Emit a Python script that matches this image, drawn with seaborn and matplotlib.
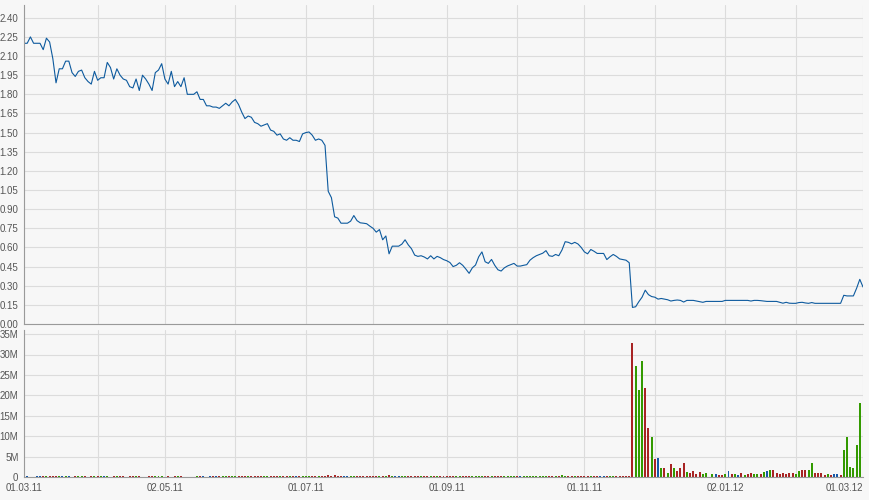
import numpy as np
import pandas as pd
import matplotlib
matplotlib.use("Agg")
import matplotlib.pyplot as plt
from matplotlib.ticker import FixedLocator, FuncFormatter
import seaborn as sns

# one point per weekday, 01.03.2011 - 01.03.2012
dates = pd.bdate_range("2011-03-01", "2012-03-01")

# closing price (one value per weekday)
price = [
    # Mar 11
    2.20, 2.20, 2.25, 2.20, 2.20, 2.20, 2.15, 2.24, 2.21, 2.08, 1.89, 2.00, 2.00, 2.06, 2.06, 1.97,
    1.94, 1.98, 1.99, 1.93, 1.90, 1.88, 1.98,
    # Apr 11
    1.91, 1.93, 1.93, 2.05, 2.01, 1.92, 2.00, 1.95, 1.92, 1.91, 1.86, 1.85, 1.92, 1.83, 1.95, 1.92,
    1.88, 1.83, 1.97, 1.99, 2.04,
    # May 11
    1.92, 1.88, 1.98, 1.86, 1.90, 1.86, 1.93, 1.80, 1.80, 1.80, 1.82, 1.76, 1.76, 1.71, 1.71, 1.70,
    1.70, 1.69, 1.71, 1.73, 1.71, 1.74,
    # Jun 11
    1.76, 1.72, 1.66, 1.61, 1.63, 1.62, 1.58, 1.57, 1.55, 1.56, 1.57, 1.52, 1.51, 1.48, 1.49, 1.45,
    1.44, 1.46, 1.44, 1.44, 1.43, 1.49,
    # Jul 11
    1.50, 1.505, 1.48, 1.44, 1.45, 1.44, 1.40, 1.04, 0.99, 0.84, 0.83, 0.79, 0.79, 0.79, 0.806, 0.85,
    0.81, 0.793, 0.79, 0.786, 0.767,
    # Aug 11
    0.75, 0.72, 0.74, 0.66, 0.69, 0.55, 0.61, 0.61, 0.61, 0.626, 0.66, 0.62, 0.59, 0.54, 0.53, 0.535,
    0.525, 0.51, 0.535, 0.51, 0.53, 0.52, 0.505,
    # Sep 11
    0.496, 0.482, 0.45, 0.46, 0.48, 0.46, 0.43, 0.397, 0.44, 0.462, 0.527, 0.565, 0.488, 0.475, 0.506,
    0.46, 0.425, 0.415, 0.44, 0.455, 0.465, 0.475,
    # Oct 11
    0.454, 0.454, 0.46, 0.465, 0.50, 0.52, 0.535, 0.545, 0.555, 0.575, 0.535, 0.53, 0.545, 0.535, 0.58,
    0.645, 0.64, 0.628, 0.64, 0.627, 0.60,
    # Nov 11
    0.565, 0.55, 0.584, 0.57, 0.553, 0.553, 0.553, 0.505, 0.527, 0.545, 0.53, 0.51, 0.505, 0.50, 0.48,
    0.13, 0.135, 0.175, 0.21, 0.265, 0.23, 0.215,
    # Dec 11
    0.21, 0.195, 0.20, 0.195, 0.19, 0.18, 0.185, 0.188, 0.185, 0.172, 0.185, 0.185, 0.185, 0.18, 0.175,
    0.17, 0.177, 0.177, 0.177, 0.177, 0.177, 0.177,
    # Jan 12
    0.185, 0.185, 0.185, 0.185, 0.185, 0.185, 0.185, 0.185, 0.18, 0.185, 0.185, 0.183, 0.18, 0.177,
    0.177, 0.177, 0.177, 0.17, 0.163, 0.17, 0.163, 0.162,
    # Feb 12
    0.162, 0.168, 0.17, 0.165, 0.162, 0.168, 0.162, 0.162, 0.162, 0.162, 0.162, 0.162, 0.162, 0.162,
    0.162, 0.225, 0.22, 0.22, 0.22, 0.28, 0.35,
    # Mar 12
    0.29,
]

# volume in millions
volume_m = [
    # Mar 11
    0.3, 0.3, 0, 0, 0.3, 0.3, 0.3, 0.3, 0.3, 0.3, 0.3, 0.3, 0.3, 0.3, 0.3, 0, 0.3, 0.3, 0.3, 0.3, 0, 0.3, 0.3,
    # Apr 11
    0.3, 0.3, 0.3, 0.3, 0, 0.3, 0.3, 0.3, 0.3, 0, 0.3, 0.3, 0.3, 0.3, 0, 0, 0.3, 0.3, 0.3, 0.3, 0.3,
    # May 11
    0, 0.3, 0, 0.3, 0.3, 0.3, 0, 0, 0, 0, 0.3, 0.3, 0.3, 0, 0.3, 0.3, 0.3, 0.3, 0.3, 0.3, 0.3, 0.3,
    # Jun 11
    0.3, 0.3, 0.3, 0.3, 0.3, 0.3, 0.3, 0.3, 0.3, 0.3, 0.3, 0.3, 0.3, 0.3, 0.3, 0.3, 0.3, 0.3, 0.3, 0.3, 0.3, 0.3,
    # Jul 11
    0.3, 0.3, 0.3, 0.3, 0.3, 0.3, 0.3, 0.5, 0.3, 0.5, 0.3, 0.3, 0.3, 0.3, 0.3, 0.3, 0.3, 0.3, 0.3, 0.3, 0.3,
    # Aug 11
    0.3, 0.3, 0.3, 0.3, 0.3, 0.5, 0.3, 0.3, 0.3, 0.3, 0.3, 0.3, 0.3, 0.3, 0.3, 0.3, 0.3, 0.3, 0.3, 0.3, 0.3, 0.3, 0.3,
    # Sep 11
    0.3, 0.3, 0.3, 0.3, 0.3, 0.3, 0.3, 0.3, 0.3, 0.3, 0.3, 0.3, 0.3, 0.3, 0.3, 0.3, 0.3, 0.3, 0.3, 0.3, 0.3, 0.3,
    # Oct 11
    0.3, 0.3, 0.3, 0.3, 0.3, 0.3, 0.3, 0.3, 0.3, 0.3, 0.3, 0.3, 0.3, 0.3, 0.5, 0.3, 0.3, 0.3, 0.3, 0.3, 0.3,
    # Nov 11
    0.3, 0.3, 0.3, 0.3, 0.3, 0.3, 0.3, 0.3, 0.3, 0.3, 0.3, 0.3, 0.3, 0.3, 0.3,
    32.9, 27.3, 21.2, 28.5, 21.9, 11.9, 9.8,
    # Dec 11
    4.5, 4.7, 2.3, 2.3, 1.0, 3.2, 2.3, 1.5, 2.3, 3.4, 1.2, 1.0, 1.5, 0.8, 1.2, 0.8, 1.0, 0, 0.7, 0.7, 0.5, 0.5,
    # Jan 12
    0.7, 1.5, 0.7, 0.7, 0.5, 1.0, 0.5, 0.65, 1.0, 0.7, 0.7, 0.7, 1.2, 1.5, 1.7, 1.7, 1.0, 0.7, 1.0, 0.7, 1.0, 1.0,
    # Feb 12
    0.7, 1.5, 1.7, 1.7, 1.7, 3.4, 1.0, 1.0, 1.0, 0.5, 0.7, 0.5, 0.7, 0.7, 0.5, 6.7, 9.8, 2.5, 2.2, 7.8, 18.2,
    # Mar 12
    0,
]

# bar colour from 19.11.11 on (r = down, g = up, b = unchanged); earlier bars follow the price change
late_dir = "rgggrrgrbg" "rgrgrrrgrr" "rrggggbrrg" "brgbrgrrgg" "rgbgrrrrrr" "rggrrggrrr" "rgrbbrgggg" "ggr"

date_labels = ["01.03.11", "02.05.11", "01.07.11", "01.09.11", "01.11.11", "02.01.12", "01.03.12"]
volume_labels = ["0", "5M", "10M", "15M", "20M", "25M", "30M", "35M"]

n = len(dates)
pos = np.arange(n)
chg = np.sign(np.diff(np.array(price), prepend=price[0]))
early_dir = ["g" if c > 0 else "r" if c < 0 else "b" for c in chg[: n - len(late_dir)]]
day_dir = early_dir + list(late_dir)
dir_colors = {"r": "#a82424", "g": "#339a00", "b": "#1558a8"}

bg = "#f7f7f7"
grid_c = "#dcdcdc"
spine_c = "#9a9a9a"
text_c = "#555555"

sns.set_theme(style="whitegrid", rc={
    "axes.facecolor": bg, "figure.facecolor": bg, "grid.color": grid_c,
    "grid.linewidth": 0.8, "axes.edgecolor": spine_c, "axes.linewidth": 0.8,
})
plt.rcParams["font.family"] = ["Liberation Sans", "DejaVu Sans"]

fig = plt.figure(figsize=(8.7, 5.0), dpi=100)
ax_p = fig.add_axes([24 / 870, 1 - 324 / 500, 839 / 870, 319 / 500])
ax_v = fig.add_axes([24 / 870, 1 - 477 / 500, 839 / 870, 147 / 500])

# first trading day of every month -> vertical grid
s = pd.Series(pos, index=dates)
month_pos = s.groupby([dates.year, dates.month]).min().values
label_pos = [dates.get_loc(pd.to_datetime(d, format="%d.%m.%y")) for d in date_labels]

# price
sns.lineplot(x=pos, y=price, ax=ax_p, color="#0d5a9e", linewidth=0.8)
ax_p.set_xlim(0, n - 1)
ax_p.set_ylim(0, 2.5)
ax_p.yaxis.set_major_locator(FixedLocator(np.arange(0, 2.41, 0.15)))
ax_p.yaxis.set_major_formatter(FuncFormatter(lambda v, _: f"{v:.2f}"))
ax_p.xaxis.set_major_locator(FixedLocator(month_pos))
ax_p.set_xticklabels([])

# volume
ax_v.bar(pos, np.array(volume_m) * 1e6, width=0.62,
         color=[dir_colors[d] for d in day_dir], linewidth=0, antialiased=False)
ax_v.set_xlim(0, n - 1)
ax_v.set_ylim(0, 36e6)
ax_v.yaxis.set_major_locator(FixedLocator(np.arange(0, 35.1e6, 5e6)))
ax_v.set_yticklabels(volume_labels)
ax_v.xaxis.set_major_locator(FixedLocator(label_pos))
ax_v.set_xticklabels(date_labels)
ax_v.xaxis.set_minor_locator(FixedLocator([p for p in month_pos if p not in label_pos]))
ax_v.grid(True, which="minor", axis="x", color=grid_c, linewidth=0.8)
ax_v.tick_params(axis="x", which="minor", length=0)

for ax in (ax_p, ax_v):
    ax.set_xlabel("")
    ax.set_ylabel("")
    ax.set_axisbelow(True)
    for side in ("top", "right"):
        ax.spines[side].set_visible(False)
    ax.tick_params(axis="both", which="major", labelsize=7, colors=text_c, pad=1,
                   length=3, width=0.8, direction="out")
    ax.tick_params(axis="both", which="major", color=spine_c)
ax_p.tick_params(axis="x", length=0)

# keep the last date label inside the figure
last = ax_v.get_xticklabels()[-1]
last.set_horizontalalignment("right")
last.set_x(last.get_position()[0] + 1.2)

fig.savefig("out.png", dpi=100, facecolor=bg)
